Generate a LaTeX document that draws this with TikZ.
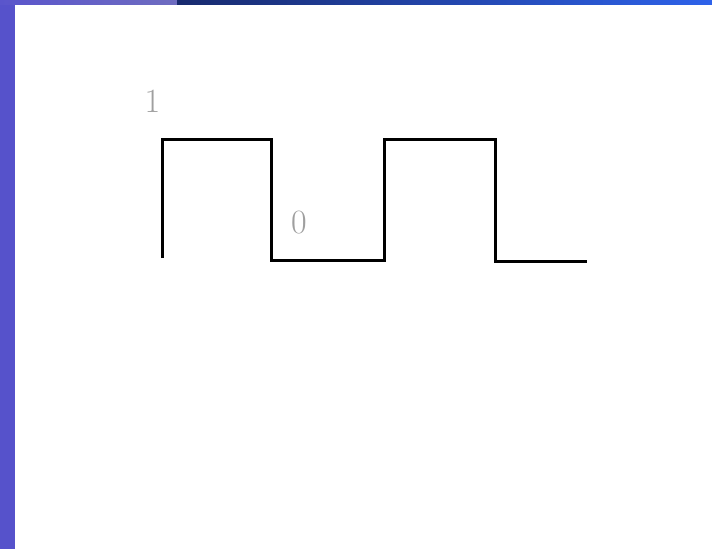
\documentclass[tikz,border=0pt]{standalone}
\usetikzlibrary{calc}
\definecolor{sidebar}{HTML}{5652CB}
\definecolor{topleftA}{HTML}{5A55CC}
\definecolor{topleftB}{HTML}{6E6CC0}
\definecolor{topnavy}{HTML}{182A6E}
\definecolor{topblue}{HTML}{2E62EA}
\tikzset{
  wave/.style={line width=3pt, line join=miter, black},
  level/.style={text=gray!75, font=\fontsize{34}{34}\selectfont, inner sep=0pt}
}
\begin{document}
\begin{tikzpicture}[x=1pt,y=-1pt]
\useasboundingbox (0,0) rectangle (712,549);
\fill[white] (0,0) rectangle (712,549);
\fill[sidebar] (0,0) rectangle (14.5,549);
\shade[left color=topleftA, right color=topleftB] (0,0) rectangle (177,4);
\shade[left color=topnavy, right color=topblue] (177,0) rectangle (712,4);
\coordinate (p0) at (162,258);
\coordinate (p1) at (162,139);
\coordinate (p2) at (271,139);
\coordinate (p3) at (271,260);
\coordinate (p4) at (384,260);
\coordinate (p5) at (384,139);
\coordinate (p6) at (495,139);
\coordinate (p7) at (495,261);
\coordinate (p8) at (587,261);
\draw[wave] (p0) -- (p1) -- (p2) -- (p3) -- (p4) -- (p5) -- (p6) -- (p7) -- (p8);
\node[level] (one) at (152.5,101.5) {1};
\node[level] (zero) at (299,222.5) {0};
\end{tikzpicture}
\end{document}
